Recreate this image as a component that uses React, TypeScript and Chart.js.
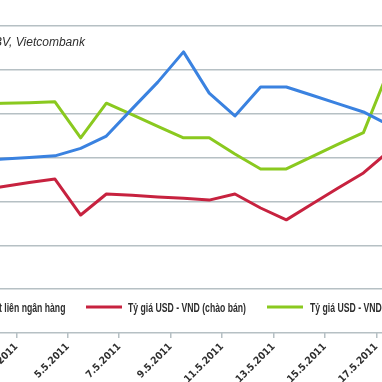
import React, { useEffect, useRef } from "react";
import { Chart, registerables } from "chart.js";

Chart.register(...registerables);

// ---- data ----
const dates = [
  "2.5.2011", "3.5.2011", "4.5.2011", "5.5.2011", "6.5.2011", "7.5.2011",
  "8.5.2011", "9.5.2011", "10.5.2011", "11.5.2011", "12.5.2011", "13.5.2011",
  "14.5.2011", "15.5.2011", "16.5.2011", "17.5.2011", "18.5.2011",
];
const labelledDates = [
  "3.5.2011", "5.5.2011", "7.5.2011", "9.5.2011",
  "11.5.2011", "13.5.2011", "15.5.2011", "17.5.2011",
];
const interbankRate = [
  3.93, 3.97, 4.0, 4.04, 4.21, 4.49, 5.11, 5.72, 6.41,
  5.47, 4.95, 5.61, 5.61, 5.42, 5.23, 5.04, 4.74,
];
const sellRate = [
  3.25, 3.34, 3.43, 3.51, 2.69, 3.17, 3.14, 3.1, 3.07,
  3.03, 3.17, 2.85, 2.58, 2.94, 3.3, 3.65, 4.15,
];
const buyRate = [
  5.22, 5.24, 5.25, 5.27, 4.45, 5.24, 4.98, 4.71, 4.45,
  4.45, 4.08, 3.74, 3.74, 4.02, 4.3, 4.57, 6.02,
];
const legendLabels = ["t liên ngân hàng", "Tỷ giá USD - VND (chào bán)", "Tỷ giá USD - VND"];
const sourceNote = "BV, Vietcombank";
const yMin = 0;
const yMax = 7;

// ---- layout ----
const OX = 115; // canvas shifted left so the chart is cropped like the reference
const W = 540;
const H = 382;
const BLUE = "#3a82e0";
const RED = "#c7223f";
const GREEN = "#8ac91f";
const GRID = "#b6c0c4";
const TEXT = "#2e2e2e";
const NARROW = '"Liberation Sans Narrow", "DejaVu Sans Condensed", "Liberation Sans", sans-serif';

const overlayPlugin = {
  id: "overlay",
  afterDraw(chart: any) {
    const ctx = chart.ctx;
    ctx.save();
    ctx.fillStyle = TEXT;
    ctx.textAlign = "left";
    ctx.textBaseline = "alphabetic";
    ctx.font = 'italic 12px "Liberation Sans", Arial, sans-serif';
    ctx.fillText(sourceNote, OX - 6, 46);

    ctx.font = 'bold 12px "Liberation Sans", Arial, sans-serif';
    ctx.textBaseline = "middle";
    const sx = 118 / ctx.measureText(legendLabels[1]).width;
    const ly = 309;
    const txt = (s: string, x: number) => {
      ctx.save();
      ctx.translate(OX + x, ly);
      ctx.scale(sx, 1);
      ctx.fillText(s, 0, 0);
      ctx.restore();
    };
    txt(legendLabels[0], -1);

    ctx.lineWidth = 3;
    ctx.strokeStyle = RED;
    ctx.beginPath();
    ctx.moveTo(OX + 86, ly - 2);
    ctx.lineTo(OX + 122, ly - 2);
    ctx.stroke();
    txt(legendLabels[1], 128);

    ctx.strokeStyle = GREEN;
    ctx.beginPath();
    ctx.moveTo(OX + 267, ly - 2);
    ctx.lineTo(OX + 303, ly - 2);
    ctx.stroke();
    txt(legendLabels[2], 310);
    ctx.restore();
  },
};

export default function App() {
  const ref = useRef<HTMLCanvasElement | null>(null);

  useEffect(() => {
    if (!ref.current) return;
    const tickVisible = (i: number) => i > 0 && labelledDates.includes(dates[i - 1]);
    const chart = new Chart(ref.current, {
      type: "line",
      data: {
        labels: dates,
        datasets: [
          { label: "Lãi suất liên ngân hàng", data: interbankRate, borderColor: BLUE, backgroundColor: BLUE },
          { label: legendLabels[1], data: sellRate, borderColor: RED, backgroundColor: RED },
          { label: legendLabels[2], data: buyRate, borderColor: GREEN, backgroundColor: GREEN },
        ],
      },
      options: {
        animation: false,
        responsive: false,
        devicePixelRatio: 1,
        layout: { padding: { left: 80, right: 23, top: 26, bottom: 0 } },
        elements: {
          line: { borderWidth: 3, tension: 0, borderJoinStyle: "round" },
          point: { radius: 0 },
        },
        plugins: { legend: { display: false }, tooltip: { enabled: false } },
        scales: {
          x: {
            type: "category",
            offset: true,
            grid: {
              offset: true,
              drawOnChartArea: false,
              drawTicks: true,
              tickLength: 5,
              color: (c: any) => (tickVisible(c.index) ? GRID : "rgba(0,0,0,0)"),
              tickColor: (c: any) => (tickVisible(c.index) ? GRID : "rgba(0,0,0,0)"),
              lineWidth: 1.5,
            },
            border: { display: false },
            ticks: {
              autoSkip: false,
              minRotation: 45,
              maxRotation: 45,
              labelOffset: 12.85,
              padding: 3,
              color: TEXT,
              font: { family: NARROW, size: 10, weight: "bold" },
              callback: (_v: any, i: number) => (labelledDates.includes(dates[i]) ? dates[i] : ""),
            },
            afterFit: (s: any) => {
              s.height = 49;
            },
          },
          y: {
            min: yMin,
            max: yMax,
            ticks: { display: false, stepSize: 1 },
            grid: { color: GRID, lineWidth: 1.5, drawTicks: false },
            border: { display: false },
          },
        },
      },
      plugins: [overlayPlugin],
    } as any);
    return () => chart.destroy();
  }, []);

  return (
    <div
      style={{
        position: "fixed",
        left: 0,
        top: 0,
        width: 382,
        height: 382,
        overflow: "hidden",
        background: "#fff",
      }}
    >
      <canvas
        ref={ref}
        width={W}
        height={H}
        style={{ position: "absolute", left: -OX, top: 0, width: W, height: H }}
      />
    </div>
  );
}
